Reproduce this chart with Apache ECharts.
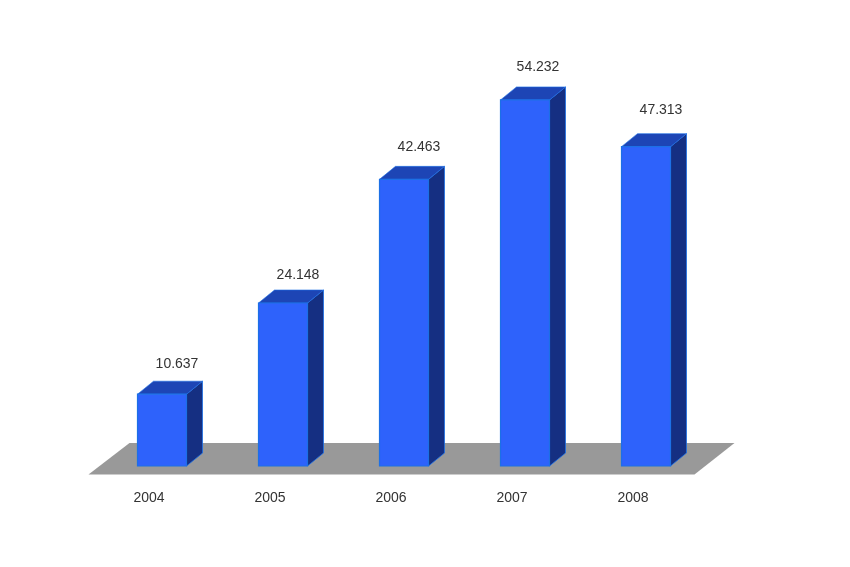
<!DOCTYPE html>
<html>
<head>
<meta charset="utf-8">
<style>html,body{margin:0;padding:0;background:#fff}#c{width:850px;height:567px}</style>
<script src="https://cdn.jsdelivr.net/npm/echarts@6/dist/echarts.min.js"></script>
</head>
<body>
<div id="c"></div>
<script>
const categories = ['2004', '2005', '2006', '2007', '2008'];
const revenue = [10637, 24148, 42463, 54232, 47313];
const labelNudgeX = [15, 15, 15, 13, 15];
const labelNudgeY = [-30, -28, -32, -33, -36];

const DEPTH_X = 16, DEPTH_Y = 13, BAND_RATIO = 0.405;
const FRONT = '#2e62fb', TOP = '#1d45b5', SIDE = '#152f82', EDGE = '#1c70e6';
const FONT = '"Liberation Sans", Arial, sans-serif';

function renderBar(params, api) {
  const i = api.value(0), v = api.value(1);
  const top = api.coord([i, v]), base = api.coord([i, 0]);
  const w = api.size([1, 0])[0] * BAND_RATIO;
  const l = top[0] - w / 2, r = top[0] + w / 2, t = top[1], b = base[1];
  const dx = DEPTH_X, dy = DEPTH_Y;
  return {
    type: 'group',
    children: [
      { type: 'polygon', shape: { points: [[r, t], [r + dx, t - dy], [r + dx, b - dy], [r, b]] },
        style: { fill: SIDE, stroke: EDGE, lineWidth: 0.8 } },
      { type: 'polygon', shape: { points: [[l, t], [l + dx, t - dy], [r + dx, t - dy], [r, t]] },
        style: { fill: TOP, stroke: EDGE, lineWidth: 0.6 } },
      { type: 'rect', shape: { x: l, y: t, width: w, height: b - t },
        style: { fill: FRONT, stroke: EDGE, lineWidth: 1.2 } },
      { type: 'text', x: top[0] + labelNudgeX[i], y: t + labelNudgeY[i],
        style: { text: (v / 1000).toFixed(3), fill: '#333', font: '14px ' + FONT,
                 align: 'center', verticalAlign: 'middle' } }
    ]
  };
}

function renderFloor(params) {
  const c = params.coordSys, b = c.y + c.height;
  return {
    type: 'polygon',
    shape: { points: [
      [c.x - 13, b + 8.5], [c.x + c.width - 12, b + 8.5],
      [c.x + c.width + 28, b - 23], [c.x + 28, b - 23]
    ] },
    style: { fill: '#999999' }
  };
}

const chart = echarts.init(document.getElementById('c'), null, { renderer: 'canvas' });
chart.setOption({
  animation: false,
  backgroundColor: '#ffffff',
  grid: { left: 101.5, width: 605, top: 61, height: 405, outerBoundsMode: 'none' },
  xAxis: {
    type: 'category',
    data: categories,
    axisLine: { show: false },
    axisTick: { show: false },
    axisLabel: { margin: 25, fontSize: 14, color: '#333', fontFamily: FONT, padding: [0, 26, 0, 0] }
  },
  yAxis: { type: 'value', min: 0, max: 60000, show: false, splitLine: { show: false } },
  series: [
    { type: 'custom', z: 1, renderItem: renderFloor, data: [[0]], encode: { x: 0 }, silent: true },
    { type: 'custom', z: 2, renderItem: renderBar, encode: { x: 0, y: 1 },
      data: revenue.map((v, i) => [i, v]) }
  ]
});
</script>
</body>
</html>
